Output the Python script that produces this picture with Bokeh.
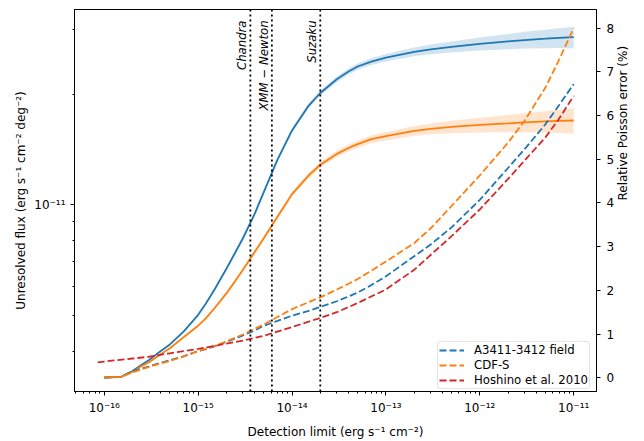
import math
from bokeh.plotting import figure
from bokeh.models import (Range1d, LinearScale, LinearAxis, FixedTicker, CustomJSTickFormatter,
                          Span, Legend, LegendItem)
from bokeh.core.properties import value
from bokeh.embed import file_html
from bokeh.resources import INLINE

# ---------------- data ----------------
x_grid = [1e-16, 1.5e-16, 2e-16, 2.5e-16, 3e-16, 4e-16, 5e-16, 7e-16, 1e-15, 1.2e-15,
          1.5e-15, 2e-15, 2.5e-15, 3e-15, 4e-15, 5e-15, 7e-15, 1e-14, 1.5e-14, 2e-14,
          3e-14, 4e-14, 5e-14, 7e-14, 1e-13, 2e-13, 3e-13, 5e-13, 1e-12, 2e-12,
          3e-12, 5e-12, 7e-12, 1e-11]
a3411_flux = [3.40e-12, 3.41e-12, 3.54e-12, 3.68e-12, 3.79e-12, 4.01e-12, 4.18e-12, 4.53e-12,
              5.03e-12, 5.38e-12, 5.90e-12, 6.71e-12, 7.45e-12, 8.12e-12, 9.46e-12, 1.083e-11,
              1.327e-11, 1.594e-11, 1.859e-11, 2.014e-11, 2.194e-11, 2.305e-11, 2.377e-11,
              2.451e-11, 2.512e-11, 2.606e-11, 2.647e-11, 2.688e-11, 2.738e-11, 2.780e-11,
              2.805e-11, 2.828e-11, 2.844e-11, 2.858e-11]
cdfs_flux = [3.40e-12, 3.41e-12, 3.52e-12, 3.65e-12, 3.74e-12, 3.93e-12, 4.08e-12, 4.37e-12,
             4.70e-12, 4.91e-12, 5.25e-12, 5.75e-12, 6.23e-12, 6.67e-12, 7.45e-12, 8.12e-12,
             9.29e-12, 1.070e-11, 1.202e-11, 1.286e-11, 1.376e-11, 1.428e-11, 1.463e-11,
             1.509e-11, 1.537e-11, 1.590e-11, 1.610e-11, 1.629e-11, 1.649e-11, 1.665e-11,
             1.675e-11, 1.686e-11, 1.691e-11, 1.696e-11]
a3411_err = [0.00, 0.02, 0.15, 0.21, 0.26, 0.34, 0.40, 0.49, 0.61, 0.65, 0.72, 0.82, 0.90,
             0.97, 1.08, 1.19, 1.30, 1.42, 1.53, 1.62, 1.75, 1.86, 1.95, 2.12, 2.32, 2.78,
             3.05, 3.44, 4.07, 4.80, 5.23, 5.80, 6.24, 6.72]
cdfs_err = [0.00, 0.02, 0.12, 0.19, 0.25, 0.33, 0.38, 0.49, 0.61, 0.66, 0.73, 0.83, 0.92,
            0.99, 1.12, 1.22, 1.39, 1.57, 1.73, 1.84, 2.02, 2.15, 2.26, 2.45, 2.66, 3.08,
            3.42, 3.93, 4.63, 5.38, 5.88, 6.64, 7.28, 8.00]
hoshino_x = [8.5e-17, 1e-16, 2e-16, 3e-16, 5e-16, 1e-15, 2e-15, 3e-15, 5e-15, 1e-14, 2e-14,
             3e-14, 5e-14, 1e-13, 2e-13, 5e-13, 1e-12, 2e-12, 3e-12, 5e-12, 7e-12, 1e-11]
hoshino_err = [0.35, 0.37, 0.44, 0.48, 0.56, 0.66, 0.78, 0.85, 0.96, 1.16, 1.37, 1.50, 1.71,
               2.02, 2.47, 3.24, 3.85, 4.55, 4.97, 5.50, 5.93, 6.45]

telescope_names = ["Chandra", "XMM \u2212 Newton", "Suzaku"]
telescope_limits = [3.6e-15, 6.1e-15, 2.0e-14]

series_labels = ["A3411-3412 field", "CDF-S", "Hoshino et al. 2010"]
x_major_ticks = [1e-16, 1e-15, 1e-14, 1e-13, 1e-12, 1e-11]
y_major_ticks = [1e-11]
err_ticks = [0, 1, 2, 3, 4, 5, 6, 7, 8]

BLUE, ORANGE, RED = "#1f77b4", "#ff7f0e", "#d62728"
FONT = "DejaVu Sans"
FS = "12px"
FS_SMALL = "11.7px"

x_minor_ticks = [m * 10.0 ** e for e in range(-17, -10) for m in range(2, 10)]
y_minor_ticks = [m * 1e-12 for m in range(2, 10)] + [m * 1e-11 for m in range(2, 10)]

X_RANGE = (4.82e-17, 1.75e-11)
ERR_RANGE = (-0.315, 8.427)

p = figure(width=640, height=441, x_axis_type="log", y_axis_type="log",
           x_range=Range1d(*X_RANGE), y_range=Range1d(3.114e-12, 3.395e-11),
           output_backend="svg", toolbar_location=None,
           min_border_left=74, min_border_right=40, min_border_top=9, min_border_bottom=43)
p.extra_y_ranges = {"err": Range1d(*ERR_RANGE)}
p.extra_y_scales = {"err": LinearScale()}
p.xgrid.visible = False
p.ygrid.visible = False
p.outline_line_color = "black"
p.outline_line_width = 1
p.outline_line_alpha = 1
p.background_fill_color = "white"
p.border_fill_color = "white"

# bands: flux +/- relative Poisson error
for flux, err, col in [(a3411_flux, a3411_err, BLUE), (cdfs_flux, cdfs_err, ORANGE)]:
    lo = [f * (1 - e / 100.0) for f, e in zip(flux, err)]
    hi = [f * (1 + e / 100.0) for f, e in zip(flux, err)]
    p.varea(x=x_grid, y1=lo, y2=hi, fill_color=col, fill_alpha=0.2)

# flux lines
p.line(x_grid, a3411_flux, line_color=BLUE, line_width=1.8)
p.line(x_grid, cdfs_flux, line_color=ORANGE, line_width=1.8)

# error lines (right axis)
dash = "7 3"
r1 = p.line(x_grid, a3411_err, line_color=BLUE, line_width=1.8, line_dash=dash, y_range_name="err")
r2 = p.line(x_grid, cdfs_err, line_color=ORANGE, line_width=1.8, line_dash=dash, y_range_name="err")
r3 = p.line(hoshino_x, hoshino_err, line_color=RED, line_width=1.8, line_dash=dash, y_range_name="err")

# vertical lines for telescopes
for loc in telescope_limits:
    p.add_layout(Span(location=loc, dimension="height", line_color="black",
                      line_width=1.8, line_dash="2 3"))
label_y = 3.17e-11
p.text(x=telescope_limits, y=[label_y] * len(telescope_limits), text=telescope_names,
       angle=math.pi / 2, text_align="right", text_baseline="bottom",
       text_font=value(FONT), text_font_style="italic", text_font_size=FS_SMALL,
       text_color="black", x_offset=-1)

sup_js = """
const sup = {'-':'\u207b','0':'\u2070','1':'\u00b9','2':'\u00b2','3':'\u00b3','4':'\u2074',
             '5':'\u2075','6':'\u2076','7':'\u2077','8':'\u2078','9':'\u2079'};
const e = Math.round(Math.log10(tick));
return '10' + String(e).split('').map(c => sup[c]).join('');
"""


def style_axis(ax, tick_standoff, label_standoff):
    ax.axis_line_color = "black"
    ax.axis_line_width = 1
    ax.major_tick_line_color = "black"
    ax.major_tick_out = 4
    ax.major_tick_in = 0
    ax.minor_tick_line_color = "black"
    ax.minor_tick_out = 2
    ax.minor_tick_in = 0
    ax.major_label_text_font = FONT
    ax.major_label_text_font_size = FS
    ax.major_label_text_color = "black"
    ax.axis_label_text_font = FONT
    ax.axis_label_text_font_size = FS
    ax.axis_label_text_font_style = "normal"
    ax.axis_label_text_color = "black"
    ax.major_label_standoff = tick_standoff
    ax.axis_label_standoff = label_standoff


xa = p.xaxis[0]
xa.ticker = FixedTicker(ticks=x_major_ticks, minor_ticks=x_minor_ticks)
xa.formatter = CustomJSTickFormatter(code=sup_js)
xa.axis_label = "Detection limit (erg s\u207b\u00b9 cm\u207b\u00b2)"
style_axis(xa, 5, 7)

ya = p.yaxis[0]
ya.ticker = FixedTicker(ticks=y_major_ticks, minor_ticks=y_minor_ticks)
ya.formatter = CustomJSTickFormatter(code=sup_js)
ya.axis_label = "Unresolved flux (erg s\u207b\u00b9 cm\u207b\u00b2 deg\u207b\u00b2)"
style_axis(ya, 5, 3)

ra = LinearAxis(y_range_name="err", ticker=FixedTicker(ticks=err_ticks, minor_ticks=[]),
                axis_label="Relative Poisson error (%)")
style_axis(ra, 6, 6)
if "axis_label_orientation" in ra.properties():
    ra.axis_label_orientation = math.pi / 2
p.add_layout(ra, "right")

legend = Legend(items=[LegendItem(label=series_labels[0], renderers=[r1]),
                       LegendItem(label=series_labels[1], renderers=[r2]),
                       LegendItem(label=series_labels[2], renderers=[r3])],
                location=(363, 2))
legend.label_text_font = FONT
legend.label_text_font_size = FS_SMALL
legend.label_text_color = "black"
legend.border_line_color = "#cccccc"
legend.border_line_width = 1
legend.background_fill_alpha = 0.8
legend.glyph_width = 25
legend.glyph_height = 14
legend.label_height = 14
legend.spacing = 1
legend.padding = 1
legend.margin = 0
legend.label_standoff = 10
if "border_radius" in legend.properties():
    legend.border_radius = 3
p.add_layout(legend)

open("out.html", "w").write(file_html(p, INLINE))
